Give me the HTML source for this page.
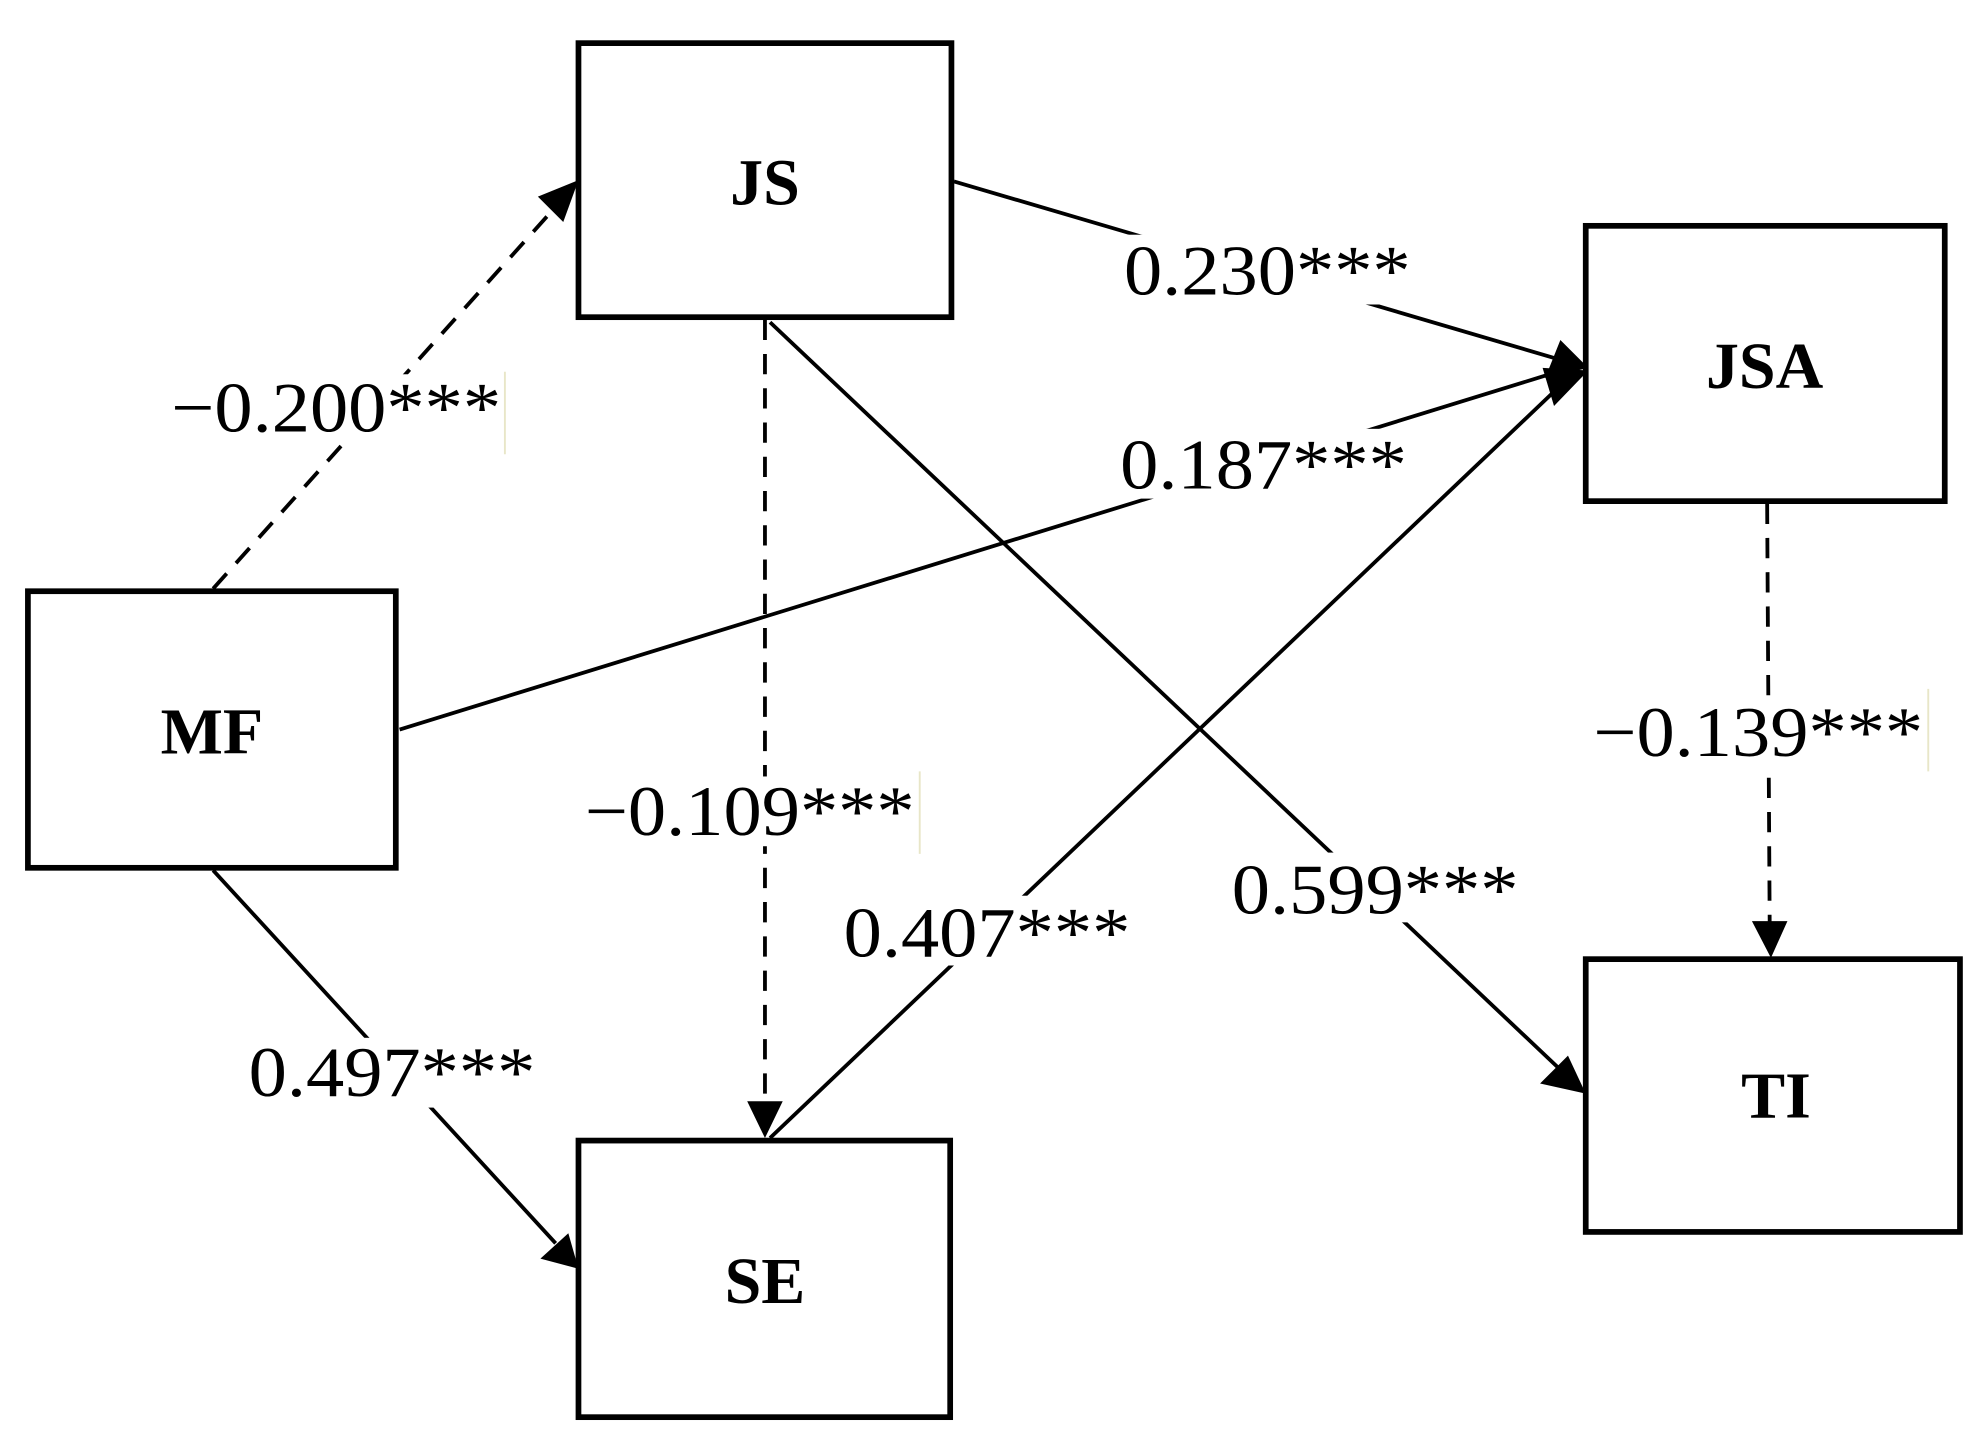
<!DOCTYPE html>
<html><head><meta charset="utf-8"><style>
html,body{margin:0;padding:0;background:#fff;}
svg{display:block;}
</style></head><body>
<svg width="1979" height="1440" viewBox="0 0 1560 1135" preserveAspectRatio="none" xmlns="http://www.w3.org/2000/svg">
<defs>
<marker id="a" viewBox="0 0 10 10" refX="10" refY="5" markerWidth="10" markerHeight="10" markerUnits="userSpaceOnUse" orient="auto">
</marker>
</defs>
<rect width="1560" height="1135" fill="#fff"/>
<g stroke="#000" stroke-width="3" fill="none">
<!-- MF->JS dashed -->
<line x1="168" y1="464" x2="438" y2="163" stroke-dasharray="16,11"/>
<!-- JS->JSA -->
<line x1="752" y1="143" x2="1228" y2="283"/>
<!-- MF->JSA -->
<line x1="315" y1="575" x2="1228" y2="293"/>
<!-- JS->TI -->
<line x1="607" y1="254" x2="1232" y2="845"/>
<!-- JS->SE dashed -->
<line x1="603" y1="252" x2="603" y2="870" stroke-dasharray="16,11"/>
<!-- SE->JSA -->
<line x1="607" y1="897" x2="1232" y2="302"/>
<!-- MF->SE -->
<line x1="168" y1="686" x2="438" y2="980"/>
<!-- JSA->TI dashed -->
<line x1="1393" y1="397" x2="1395" y2="728" stroke-dasharray="16,11"/>
</g>
<g fill="#000">
<polygon points="456,142 424,155 444,175"/>
<polygon points="1252,290 1218,298 1230,268"/>
<polygon points="1252,292 1225,320 1216,290"/>
<polygon points="1250,862 1214,854 1236,832"/>
<polygon points="603,897 589,868 617,868"/>
<polygon points="456,1000 426,992 448,972"/>
<polygon points="1396,755 1381,726 1409,726"/>
</g>
<!-- label backgrounds -->
<g fill="#fff">
<rect x="132" y="295" width="265" height="50"/>
<rect x="883" y="185" width="232" height="55"/>
<rect x="880" y="338" width="232" height="55"/>
<rect x="968" y="672" width="232" height="55"/>
<rect x="458" y="612" width="265" height="55"/>
<rect x="662" y="706" width="232" height="55"/>
<rect x="193" y="818" width="232" height="55"/>
<rect x="1253" y="550" width="265" height="55"/>
</g>
<g font-family="Liberation Serif, serif" font-size="56" fill="#000">
<text x="135" y="340" textLength="260" lengthAdjust="spacingAndGlyphs">−0.200***</text>
<text x="886" y="232" textLength="226" lengthAdjust="spacingAndGlyphs">0.230***</text>
<text x="883" y="385" textLength="226" lengthAdjust="spacingAndGlyphs">0.187***</text>
<text x="971" y="720" textLength="226" lengthAdjust="spacingAndGlyphs">0.599***</text>
<text x="461" y="658" textLength="260" lengthAdjust="spacingAndGlyphs">−0.109***</text>
<text x="665" y="754" textLength="226" lengthAdjust="spacingAndGlyphs">0.407***</text>
<text x="196" y="864" textLength="226" lengthAdjust="spacingAndGlyphs">0.497***</text>
<text x="1256" y="596" textLength="260" lengthAdjust="spacingAndGlyphs">−0.139***</text>
</g>
<g stroke="#e8e6c8" stroke-width="1.5">
<line x1="398" y1="293" x2="398" y2="358"/>
<line x1="725" y1="608" x2="725" y2="673"/>
<line x1="1520" y1="543" x2="1520" y2="608"/>
</g>
<g stroke="#000" stroke-width="4.5" fill="#fff">
<rect x="456" y="34" width="294" height="216"/>
<rect x="1250" y="178" width="283" height="217"/>
<rect x="22" y="466" width="290" height="218"/>
<rect x="456" y="899" width="293" height="218"/>
<rect x="1250" y="756" width="295" height="215"/>
</g>
<g font-family="Liberation Serif, serif" font-size="52" font-weight="bold" fill="#000" text-anchor="middle">
<text x="603" y="161">JS</text>
<text x="1391" y="306">JSA</text>
<text x="167" y="594">MF</text>
<text x="603" y="1027">SE</text>
<text x="1400" y="881">TI</text>
</g>
</svg>
</body></html>
